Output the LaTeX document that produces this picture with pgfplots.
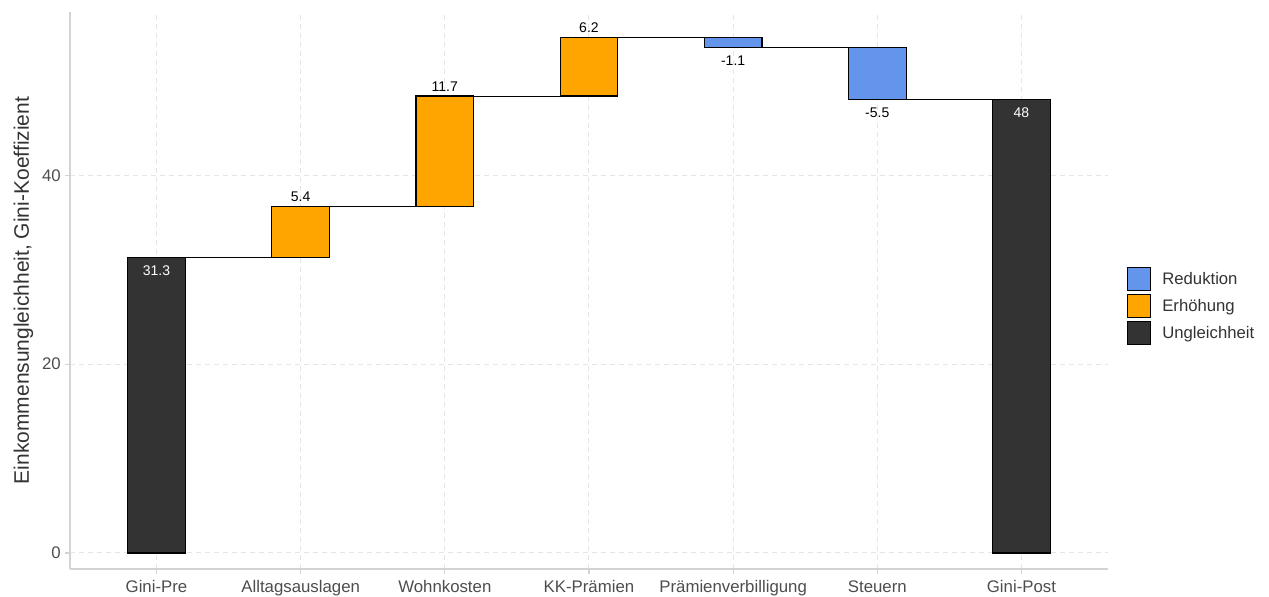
\documentclass[border=0pt]{standalone}
\usepackage{pgfplots}
\pgfplotsset{compat=1.18}
\usepackage{fontspec}
\setmainfont{Liberation Sans}
\definecolor{redu}{HTML}{6495ED}
\definecolor{erh}{HTML}{FFA500}
\definecolor{ungl}{HTML}{333333}
\definecolor{gridc}{HTML}{E5E5E5}
\definecolor{axc}{HTML}{D3D3D3}
\definecolor{tickc}{HTML}{4D4D4D}
\begin{document}
\begin{tikzpicture}
\useasboundingbox (-70bp,-28bp) rectangle (1199bp,569bp);
\begin{axis}[
  at={(0,0)}, anchor=south west,
  scale only axis, width=1038bp, height=557bp,
  xmin=0.4, xmax=7.6, ymin=-1.7, ymax=57.3,
  axis x line*=bottom, axis y line*=left,
  axis line style={axc, line width=1.1bp},
  xtick={1,2,3,4,5,6,7},
  xticklabels={Gini-Pre, Alltagsauslagen, Wohnkosten, KK-Prämien, Prämienverbilligung, Steuern, Gini-Post},
  ytick={0,20,40},
  tick align=outside, major tick length=5bp,
  tick style={axc, line width=1.1bp},
  grid=major,
  major grid style={gridc, line width=1bp, dash pattern=on 5bp off 4bp},
  /pgf/number format/assume math mode=true,
  ticklabel style={font=\fontsize{16.8bp}{20bp}\selectfont, text=tickc},
  xticklabel style={anchor=base, inner sep=0pt, yshift=-18.5bp},
  yticklabel style={anchor=east, inner sep=0pt, xshift=-4bp},
  ylabel={Einkommensungleichheit, Gini-Koeffizient},
  ylabel style={at={(axis description cs:-0.0395,0.5)}, anchor=base, font=\fontsize{21bp}{24bp}\selectfont, text=ungl},
  legend style={at={(1,0.472)}, anchor=west, xshift=19bp, draw=none, fill=none,
    font=\fontsize{16.7bp}{20bp}\selectfont, text=ungl, row sep=3bp, inner sep=0pt,
    /tikz/every odd column/.style={column sep=9bp}},
  legend cell align=left,
]
% legend
\addlegendimage{legend image code/.code={\draw[fill=redu,draw=black,line width=1.2bp] (0bp,-11.5bp) rectangle (23bp,11.5bp);}}
\addlegendentry{Reduktion}
\addlegendimage{legend image code/.code={\draw[fill=erh,draw=black,line width=1.2bp] (0bp,-11.5bp) rectangle (23bp,11.5bp);}}
\addlegendentry{Erhöhung}
\addlegendimage{legend image code/.code={\draw[fill=ungl,draw=black,line width=1.2bp] (0bp,-11.5bp) rectangle (23bp,11.5bp);}}
\addlegendentry{Ungleichheit}

% connectors
\addplot[black, line width=1bp, forget plot] coordinates {(1.2,31.3) (1.8,31.3)};
\addplot[black, line width=1bp, forget plot] coordinates {(2.2,36.7) (2.8,36.7)};
\addplot[black, line width=1bp, forget plot] coordinates {(3.2,48.4) (3.8,48.4)};
\addplot[black, line width=1bp, forget plot] coordinates {(4.2,54.6) (4.8,54.6)};
\addplot[black, line width=1bp, forget plot] coordinates {(5.2,53.5) (5.8,53.5)};
\addplot[black, line width=1bp, forget plot] coordinates {(6.2,48.0) (6.8,48.0)};

% bars
\addplot[fill=ungl, draw=black, line width=1.2bp, forget plot] coordinates {(0.8,0) (1.2,0) (1.2,31.3) (0.8,31.3)} -- cycle;
\addplot[fill=erh, draw=black, line width=1.2bp, forget plot] coordinates {(1.8,31.3) (2.2,31.3) (2.2,36.7) (1.8,36.7)} -- cycle;
\addplot[fill=erh, draw=black, line width=1.2bp, forget plot] coordinates {(2.8,36.7) (3.2,36.7) (3.2,48.4) (2.8,48.4)} -- cycle;
\addplot[fill=erh, draw=black, line width=1.2bp, forget plot] coordinates {(3.8,48.4) (4.2,48.4) (4.2,54.6) (3.8,54.6)} -- cycle;
\addplot[fill=redu, draw=black, line width=1.2bp, forget plot] coordinates {(4.8,54.6) (5.2,54.6) (5.2,53.5) (4.8,53.5)} -- cycle;
\addplot[fill=redu, draw=black, line width=1.2bp, forget plot] coordinates {(5.8,53.5) (6.2,53.5) (6.2,48.0) (5.8,48.0)} -- cycle;
\addplot[fill=ungl, draw=black, line width=1.2bp, forget plot] coordinates {(6.8,0) (7.2,0) (7.2,48.0) (6.8,48.0)} -- cycle;

% labels
\begin{scope}[every node/.style={anchor=base, inner sep=0pt, font=\fontsize{14bp}{16bp}\selectfont}]
\node[white, yshift=-18bp] at (axis cs:1,31.3) {31.3};
\node[yshift=5bp] at (axis cs:2,36.7) {5.4};
\node[yshift=5bp] at (axis cs:3,48.4) {11.7};
\node[yshift=5bp] at (axis cs:4,54.6) {6.2};
\node[yshift=-18bp] at (axis cs:5,53.5) {-1.1};
\node[yshift=-18bp] at (axis cs:6,48.0) {-5.5};
\node[white, yshift=-18bp] at (axis cs:7,48.0) {48};
\end{scope}
\end{axis}
\end{tikzpicture}
\end{document}
